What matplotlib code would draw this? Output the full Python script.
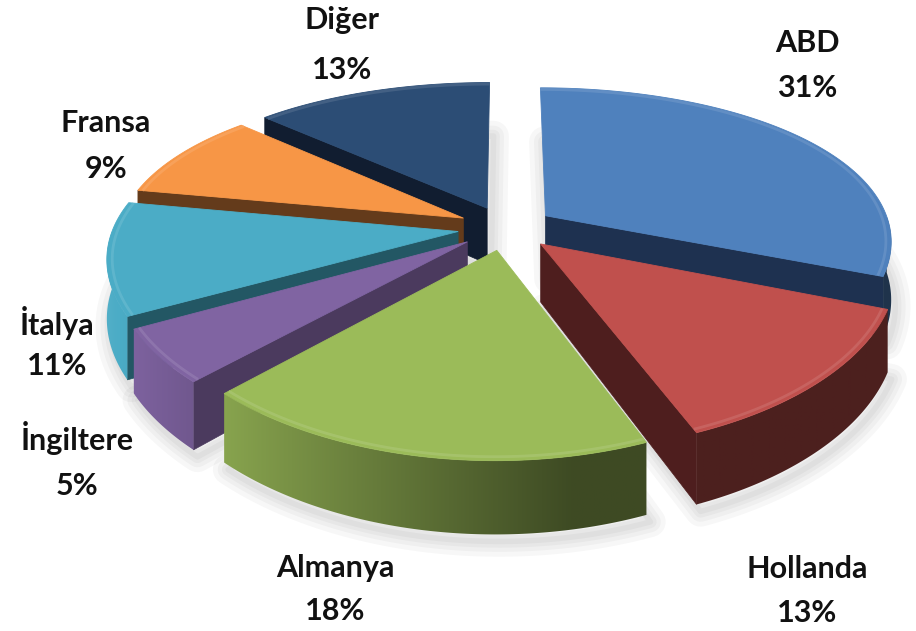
import numpy as np
import matplotlib.pyplot as plt
from matplotlib.patches import Polygon
from matplotlib.colors import to_rgb

# data
labels = ["ABD", "Hollanda", "Almanya", "İngiltere", "İtalya", "Fransa", "Diğer"]
values = [31, 13, 18, 5, 11, 9, 13]

# style
top_colors = ["#4F81BD", "#C0504D", "#9BBB59", "#8064A2", "#4BACC6", "#F79646", "#2C4D75"]
wall_colors = ["#1E3150", "#4E1E1E", "#4A5E27", "#4B3A5E", "#235764", "#643B1B", "#111D30"]
# label anchor: centre x, baseline of name, baseline of percent
label_pos = [(807, 52, 97), (807, 578, 622), (335, 577, 620), (77, 450, 495),
             (57, 335, 375), (106, 132, 178), (342, 29, 79)]

# fake 3d geometry (pixels)
CX, CY = 506, 228
RX, RY = 345, 158
PX, PY = 0.15, 0.20
DEPTH = 57
EXPLODE = 0.14


def proj(x, y, z=0.0):
    """disc coords -> screen coords with a bit of perspective"""
    sx = 1.0 / (1.0 + PX * y)
    sy = 1.0 / (1.0 + PY * y)
    return CX + RX * x * sx, CY - RY * y * sy + DEPTH * z * sy


def shade(color, f):
    c = np.array(to_rgb(color))
    if f <= 1:
        return c * f
    return c + (1 - c) * (f - 1)


def wall_light(t):
    return np.clip(0.5 - 0.55 * np.cos(t), 0.4, 1.03)


def outer_wall(ax, ox, oy, a, b, color, z):
    """side of the slice, shaded left to right with a clipped image"""
    ts = np.linspace(a, b, 200)
    ts = ts[np.sin(ts) < 0]
    if len(ts) < 2:
        return
    top = [proj(ox + np.cos(t), oy + np.sin(t)) for t in ts]
    bot = [proj(ox + np.cos(t), oy + np.sin(t), 1.0) for t in ts[::-1]]
    poly = Polygon(top + bot, closed=True, facecolor="none", edgecolor="none", zorder=z)
    ax.add_patch(poly)
    xs = np.array([p[0] for p in top])
    fs = wall_light(ts)
    idx = np.argsort(xs)
    allpts = np.array(top + bot)
    x0, x1 = allpts[:, 0].min(), allpts[:, 0].max()
    y0, y1 = allpts[:, 1].min(), allpts[:, 1].max()
    cols = np.linspace(x0, x1, 400)
    fc = np.interp(cols, xs[idx], fs[idx])
    img = np.array([[shade(color, f) for f in fc]])
    im = ax.imshow(img, extent=(x0 - 1, x1 + 1, y1 + 1, y0 - 1), aspect="auto",
                   interpolation="bilinear", zorder=z)
    im.set_clip_path(poly)


fig = plt.figure(figsize=(9.16, 6.31), dpi=100)
ax = fig.add_axes([0, 0, 1, 1])

total = float(sum(values))
slices = []
start = 90.0
for i, v in enumerate(values):
    sweep = 360.0 * v / total
    t1 = np.radians(start)
    t2 = np.radians(start - sweep)
    mid = (t1 + t2) / 2
    slices.append((i, t1, t2, mid))
    start -= sweep

# soft shadow under the pie
for i, t1, t2, mid in slices:
    ox, oy = EXPLODE * np.cos(mid), EXPLODE * np.sin(mid)
    ts = np.linspace(t1, t2, 80)
    pts = [proj(ox, oy, 1.0)] + [proj(ox + np.cos(t), oy + np.sin(t), 1.0) for t in ts]
    pts = [(px + 4, py + 7) for px, py in pts]
    for lw in [22, 15, 9, 4]:
        ax.add_patch(Polygon(pts, closed=True, facecolor="none", edgecolor="#000000",
                             alpha=0.03, lw=lw, joinstyle="round", zorder=0))

# back slices first
order = sorted(slices, key=lambda s: -np.sin(s[3]))
z = 1
for i, t1, t2, mid in order:
    ox, oy = EXPLODE * np.cos(mid), EXPLODE * np.sin(mid)
    top = top_colors[i]

    # radial walls
    for t, visible in [(t1, np.cos(t1) < -1e-6), (t2, np.cos(t2) > 1e-6)]:
        if not visible:
            continue
        ex, ey = ox + np.cos(t), oy + np.sin(t)
        pts = [proj(ox, oy), proj(ex, ey), proj(ex, ey, 1.0), proj(ox, oy, 1.0)]
        ax.add_patch(Polygon(pts, closed=True, facecolor=wall_colors[i],
                             edgecolor=wall_colors[i], lw=0.5, zorder=z))
    z += 1

    outer_wall(ax, ox, oy, t1, t2, top, z)
    z += 1

    # top face
    ts = np.linspace(t1, t2, 120)
    pts = [proj(ox, oy)] + [proj(ox + np.cos(t), oy + np.sin(t)) for t in ts]
    ax.add_patch(Polygon(pts, closed=True, facecolor=top, edgecolor=top, lw=0.6, zorder=z))
    # bevel highlight along the rim
    rim = [proj(ox + 0.985 * np.cos(t), oy + 0.985 * np.sin(t)) for t in ts]
    rx, ry = zip(*rim)
    ax.plot(rx, ry, color=shade(top, 1.2), lw=2.0, alpha=0.55, zorder=z,
            solid_capstyle="butt")
    z += 1

for (x, y1, y2), name, v in zip(label_pos, labels, values):
    pct = "{:.0f}%".format(100.0 * v / total)
    ax.text(x, y1, name, ha="center", va="baseline", fontsize=22,
            fontweight="bold", family="Lato", color="#111111", zorder=50)
    ax.text(x, y2, pct, ha="center", va="baseline", fontsize=22,
            fontweight="bold", family="Lato", color="#111111", zorder=50)

ax.set_xlim(0, 916)
ax.set_ylim(631, 0)
ax.axis("off")

fig.savefig("out.png", dpi=100)
